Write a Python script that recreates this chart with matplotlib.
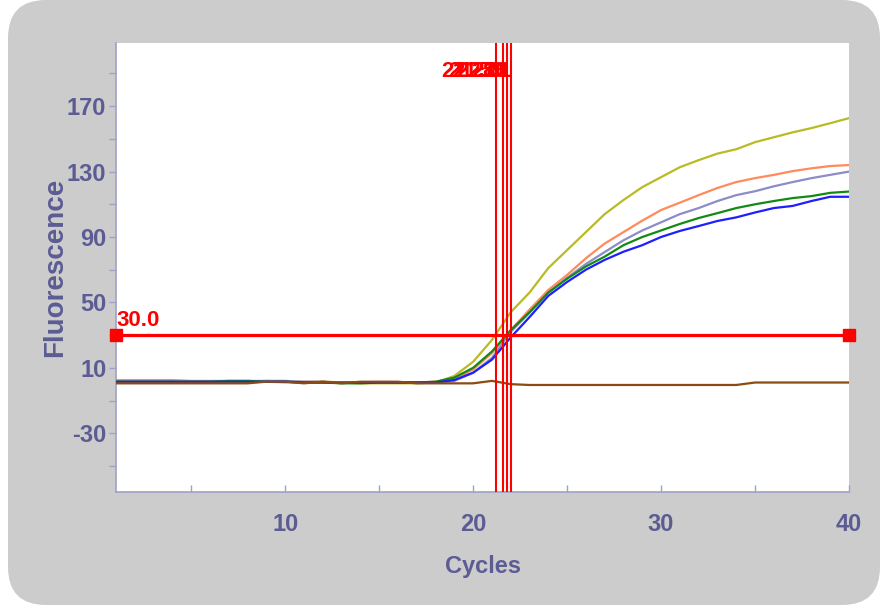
import numpy as np
import matplotlib.pyplot as plt
from matplotlib.patches import FancyBboxPatch
from matplotlib.transforms import IdentityTransform
from matplotlib.ticker import MultipleLocator, FixedLocator

cycles = np.arange(1, 41)

# fluorescence per cycle
yellow = [1.5, 1.5, 1.5, 1.5, 1.5, 1.5, 1.5, 1.5, 1.5, 1.0, 1.0, 1.5, 1.0, 0.5, 0.5, 0.5,
          0.5, 1.0, 5.0, 13.7, 27.0, 44.0, 56.0, 71.0, 82.0, 93.0, 104.0, 112.6, 120.5, 126.6,
          132.7, 137.0, 141.0, 143.7, 148.0, 151.0, 154.0, 156.6, 159.6, 162.7]
orange = [2.5, 2.5, 2.5, 2.5, 2.0, 2.0, 2.0, 2.0, 2.0, 1.5, 1.5, 1.5, 1.0, 1.0, 1.0, 1.0,
          1.0, 1.5, 3.0, 9.0, 19.0, 33.0, 45.6, 57.6, 66.8, 77.0, 86.0, 93.0, 100.0, 106.5,
          111.0, 115.6, 120.0, 123.6, 126.0, 128.0, 130.3, 132.0, 133.4, 134.0]
lavender = [1.5, 1.5, 1.5, 1.5, 1.5, 1.5, 1.5, 1.5, 2.0, 2.0, 1.5, 1.5, 1.0, 1.0, 1.0, 1.0,
            1.0, 1.0, 2.0, 7.0, 16.0, 32.0, 43.6, 56.0, 65.0, 73.5, 80.8, 88.0, 94.0, 99.0,
            104.0, 107.7, 112.0, 115.6, 118.0, 121.0, 123.6, 126.0, 128.0, 130.0]
green = [1.5, 1.5, 1.5, 1.5, 1.5, 1.5, 2.0, 2.0, 1.5, 1.5, 1.0, 1.0, 0.5, 0.5, 1.0, 1.0,
         1.0, 1.5, 4.0, 10.0, 20.0, 33.0, 44.0, 56.0, 64.5, 72.0, 78.0, 85.0, 90.0, 94.0,
         98.0, 101.6, 104.6, 107.7, 110.0, 112.0, 113.8, 115.0, 117.0, 117.8]
blue = [1.5, 1.5, 1.5, 1.5, 1.5, 1.5, 1.5, 1.5, 1.5, 1.5, 1.0, 1.0, 1.0, 1.0, 1.0, 1.0,
        1.0, 1.0, 2.5, 7.0, 15.0, 28.6, 41.0, 54.0, 62.5, 70.0, 76.0, 81.0, 85.0, 90.0,
        93.7, 96.7, 99.8, 102.0, 105.0, 107.7, 109.0, 112.0, 114.6, 114.6]
brown = [0.5, 0.5, 0.5, 0.5, 0.5, 0.5, 0.5, 0.5, 1.5, 1.5, 0.5, 1.5, 0.5, 1.5, 1.5, 1.5,
         0.5, 0.5, 0.5, 0.5, 2.0, 0.0, -0.5, -0.5, -0.5, -0.5, -0.5, -0.5, -0.5, -0.5,
         -0.5, -0.5, -0.5, -0.5, 1.0, 1.0, 1.0, 1.0, 1.0, 1.0]

threshold = 30.0
ct_values = [21.21, 21.59, 21.8, 22.01]
ct_labels = ['21.21', '21.59', '21.80', '22.01']

series = [(orange, '#ff8a5c'), (lavender, '#8c8cc8'), (yellow, '#b8bb22'),
          (green, '#138a13'), (blue, '#1e1eff'), (brown, '#8b4b12')]

plt.rcParams['font.family'] = ['Liberation Sans', 'DejaVu Sans']
plt.rcParams['axes.unicode_minus'] = False
axis_col = '#5c5c94'
spine_col = '#a0a0c8'

fig = plt.figure(figsize=(8.87, 6.09), dpi=100, facecolor='white')
# grey rounded panel behind the chart (pixel coordinates)
panel = FancyBboxPatch((8, 4), 872, 605, boxstyle='round,pad=0,rounding_size=38',
                       transform=IdentityTransform(), facecolor='#cccccc',
                       edgecolor='none', zorder=-5)
fig.patches.append(panel)

ax = fig.add_axes([0.1308, 0.192, 0.8264, 0.737])
ax.set_facecolor('white')

for vals, col in series:
    ax.plot(cycles, vals, color=col, lw=1.6, zorder=3)

ax.axhline(threshold, color='red', lw=2.3, zorder=5)
ax.plot([1, 40], [threshold, threshold], 's', color='red', ms=9, clip_on=False, zorder=6)
ax.text(1.0, threshold + 2.5, f'{threshold:.1f}', color='red', fontsize=16,
        fontweight='bold', ha='left', va='bottom', zorder=6)

for ct, lab in zip(ct_values, ct_labels):
    ax.axvline(ct, color='red', lw=1.5, zorder=4)
    ax.text(ct + 0.05, 191, lab, color='red', fontsize=16, fontweight='bold',
            ha='right', va='center', zorder=6)

ax.set_xlim(1, 40)
ax.set_ylim(-66, 208.5)

ax.xaxis.set_major_locator(FixedLocator([10, 20, 30, 40]))
ax.xaxis.set_minor_locator(FixedLocator([5, 15, 25, 35]))
ax.yaxis.set_major_locator(MultipleLocator(40, offset=10))
ax.yaxis.set_minor_locator(MultipleLocator(40, offset=-10))

ax.tick_params(axis='x', which='both', direction='in', length=5, width=1,
               color=spine_col, labelcolor=axis_col, labelsize=17, pad=15)
ax.tick_params(axis='y', which='both', direction='out', length=5, width=1,
               color=spine_col, labelcolor=axis_col, labelsize=17, pad=2)
for lab in ax.get_xticklabels() + ax.get_yticklabels():
    lab.set_fontweight('bold')

for side in ['top', 'right']:
    ax.spines[side].set_visible(False)
for side in ['left', 'bottom']:
    ax.spines[side].set_color(spine_col)
    ax.spines[side].set_linewidth(1.2)

ax.set_xlabel('Cycles', color=axis_col, fontsize=17, fontweight='bold', labelpad=14)
ax.set_ylabel('Fluorescence', color=axis_col, fontsize=20, fontweight='bold')
ax.yaxis.set_label_coords(-0.066, 0.5)

fig.savefig('out.png', dpi=100, facecolor='white')
